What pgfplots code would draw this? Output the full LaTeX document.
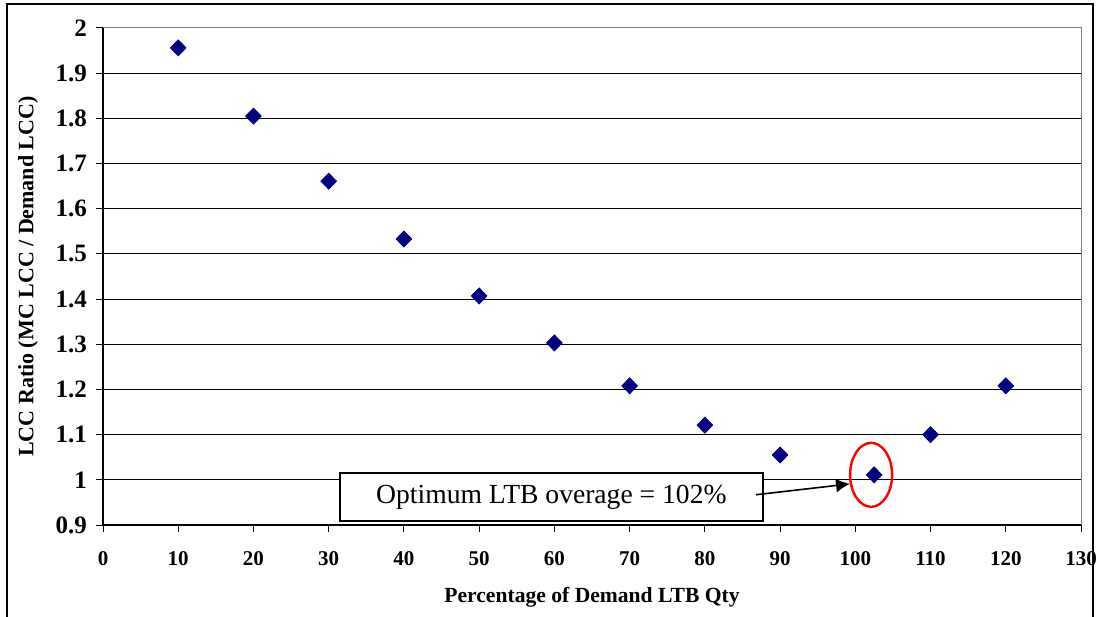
\documentclass[border=0pt]{standalone}
\usepackage{fontspec}
\setmainfont{Liberation Serif}
\usepackage{pgfplots}
\pgfplotsset{compat=1.18}
\usetikzlibrary{arrows.meta}
\definecolor{navy}{RGB}{0,0,128}
\begin{document}
\begin{tikzpicture}
% page = 1101 x 616 px at 0.5pt per px
\path[use as bounding box] (0,0) rectangle (550.5pt,308pt);
\draw[line width=0.9pt] (3.5pt,-5pt) -- (3.5pt,306pt) -- (546.5pt,306pt) -- (546.5pt,-5pt);
\begin{axis}[
    at={(51.5pt,45.5pt)}, anchor=south west,
    scale only axis,
    width=489pt, height=248.5pt,
    xmin=0, xmax=130, ymin=0.9, ymax=2,
    xtick={0,10,...,130},
    ytick={0.9,1.0,...,2.01},
    axis lines=left,
    axis line style={-, black, line width=0.6pt},
    tick align=outside,
    major tick length=3.5pt,
    tick style={black, line width=0.5pt},
    ymajorgrids=true,
    grid style={black, line width=0.5pt},
    /pgf/number format/assume math mode=true,
    /pgf/number format/fixed,
    /pgf/number format/precision=1,
    xticklabel style={font=\bfseries\fontsize{10.5}{12}\selectfont, yshift=-6pt},
    yticklabel style={font=\bfseries\fontsize{12.5}{14}\selectfont, xshift=-1pt},
    xlabel={Percentage of Demand LTB Qty},
    ylabel={LCC Ratio (MC LCC / Demand LCC)},
    xlabel style={font=\bfseries\fontsize{10.8}{12}\selectfont, at={(axis description cs:0.5,-0.145)}, anchor=center},
    ylabel style={font=\bfseries\fontsize{11}{12}\selectfont, at={(axis description cs:-0.0767,0.5)}, anchor=center},
    clip=false,
  ]
  \addplot[only marks, mark=diamond*, mark size=4pt, color=navy,
    mark options={xscale=1.3, fill=navy, draw=navy}]
    coordinates {(10,1.956)(20,1.805)(30,1.661)(40,1.533)(50,1.407)(60,1.303)
                 (70,1.208)(80,1.121)(90,1.055)(102.5,1.011)(110,1.100)(120,1.208)};
  \draw[gray, line width=0.5pt] (rel axis cs:0,1) -- (rel axis cs:1,1) -- (rel axis cs:1,0);
  \draw[red, line width=1.2pt] (axis cs:102.1,1.011) ellipse [x radius=10.5pt, y radius=16pt];
  \node[draw=black, fill=white, line width=0.9pt, minimum width=211.5pt, minimum height=24pt,
        inner sep=0pt, font=\fontsize{13.8}{15}\selectfont]
    at (axis cs:59.6,0.962) {Optimum LTB overage = 102\%};
  \draw[-{Latex[length=7pt,width=7pt]}, line width=0.8pt] (axis cs:86.8,0.967) -- (axis cs:99.3,0.991);
  \end{axis}
\end{tikzpicture}
\end{document}
